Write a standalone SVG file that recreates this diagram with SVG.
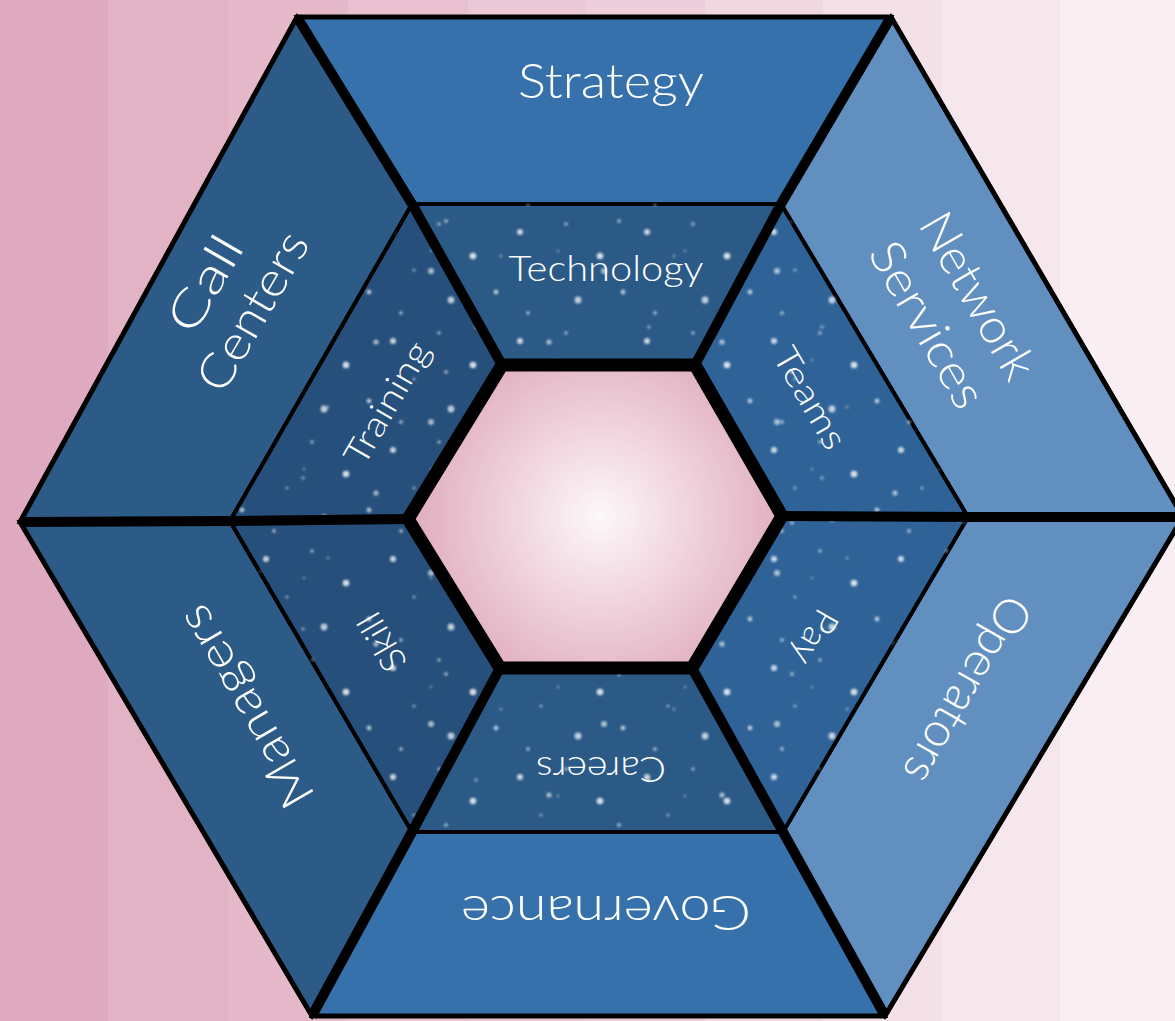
<svg xmlns="http://www.w3.org/2000/svg" width="1175" height="1021" viewBox="0 0 1175 1021">
  <defs>
    <style>
      .seg { stroke: #000; stroke-width: 4; stroke-linejoin: miter; }
      .dark { fill: #2c5b87; }
      .mid { fill: #3671ab; }
      .light { fill: #6190c0; }
      .r1 { fill: #2b5a87; }
      .r2 { fill: #264f7b; }
      .r3 { fill: #2f6398; }
      .stars { fill: url(#stars); filter: url(#soft); stroke: none; }
      .stars2 { fill: url(#stars2); filter: url(#soft); stroke: none; }
      .lbl { fill: #ffffff; font-family: Lato, "Open Sans", "Liberation Sans", sans-serif; font-weight: 300; text-anchor: middle; }
      .big { font-size: 48px; }
      .small { font-size: 35px; }
      .divider { fill: none; stroke: #000; stroke-width: 10; stroke-linejoin: miter; }
    </style>
    <filter id="soft" x="-5%" y="-5%" width="110%" height="110%">
      <feGaussianBlur stdDeviation="1.1"/>
    </filter>
    <pattern id="stars" width="127" height="109" patternUnits="userSpaceOnUse">
      <circle cx="12" cy="14" r="3" fill="#fff" fill-opacity="0.75"/>
      <circle cx="58" cy="6" r="1.8" fill="#fff" fill-opacity="0.55"/>
      <circle cx="92" cy="38" r="3.3" fill="#fff" fill-opacity="0.8"/>
      <circle cx="33" cy="52" r="1.6" fill="#fff" fill-opacity="0.5"/>
      <circle cx="115" cy="74" r="2.4" fill="#fff" fill-opacity="0.65"/>
      <circle cx="70" cy="82" r="3.4" fill="#fff" fill-opacity="0.7"/>
      <circle cx="20" cy="95" r="1.9" fill="#fff" fill-opacity="0.55"/>
      <circle cx="50" cy="33" r="1.3" fill="#fff" fill-opacity="0.4"/>
    </pattern>
    <pattern id="stars2" width="173" height="151" patternUnits="userSpaceOnUse">
      <circle cx="30" cy="40" r="2.6" fill="#fff" fill-opacity="0.6"/>
      <circle cx="130" cy="25" r="1.8" fill="#fff" fill-opacity="0.45"/>
      <circle cx="85" cy="120" r="3" fill="#fff" fill-opacity="0.6"/>
      <circle cx="155" cy="105" r="1.5" fill="#fff" fill-opacity="0.4"/>
      <circle cx="100" cy="70" r="2" fill="#fff" fill-opacity="0.5"/>
    </pattern>
    <radialGradient id="core" cx="600" cy="516" r="200" gradientUnits="userSpaceOnUse">
      <stop offset="0" stop-color="#fdf8fa"/>
      <stop offset="0.45" stop-color="#f0d3de"/>
      <stop offset="1" stop-color="#dea8bb"/>
    </radialGradient>
  </defs>

  <g id="background">
    <rect x="0" y="0" width="108" height="1021" fill="#dfa9bf"/>
    <rect x="108" y="0" width="120" height="1021" fill="#e2b2c5"/>
    <rect x="228" y="0" width="120" height="1021" fill="#e5b9ca"/>
    <rect x="348" y="0" width="120" height="1021" fill="#e8c0d0"/>
    <rect x="468" y="0" width="117" height="1021" fill="#ebc8d6"/>
    <rect x="585" y="0" width="120" height="1021" fill="#edcfdb"/>
    <rect x="705" y="0" width="118" height="1021" fill="#f0d8e1"/>
    <rect x="823" y="0" width="119" height="1021" fill="#f4e1e7"/>
    <rect x="942" y="0" width="118" height="1021" fill="#f6e7ec"/>
    <rect x="1060" y="0" width="115" height="1021" fill="#f9eef2"/>
  </g>

  <g id="node-strategy">
    <polygon class="seg mid" points="297,17 891,17 781,204 412,204"/>
    <text class="lbl big" x="611" y="98" textLength="186" lengthAdjust="spacingAndGlyphs">Strategy</text>
  </g>
  <g id="node-network-services">
    <polygon class="seg light" points="891,17 1183,517 968,517 781,204"/>
    <g transform="translate(953,310) rotate(60)">
      <text class="lbl big" x="0" y="-12" textLength="184" lengthAdjust="spacingAndGlyphs">Network</text>
      <text class="lbl big" x="0" y="46" textLength="184" lengthAdjust="spacingAndGlyphs">Services</text>
    </g>
  </g>
  <g id="node-operators">
    <polygon class="seg light" points="1183,517 885,1016 783,832 968,517"/>
    <text class="lbl big" transform="translate(968,690) rotate(120)" x="0" y="17" textLength="208" lengthAdjust="spacingAndGlyphs">Operators</text>
  </g>
  <g id="node-governance">
    <polygon class="seg mid" points="885,1016 312,1016 412,832 783,832"/>
    <text class="lbl big" transform="translate(606,913) rotate(180)" x="0" y="17" textLength="290" lengthAdjust="spacingAndGlyphs">Governance</text>
  </g>
  <g id="node-managers">
    <polygon class="seg dark" points="312,1016 20,522 230,521 412,832"/>
    <text class="lbl big" transform="translate(245,707) rotate(-120)" x="0" y="17" textLength="225" lengthAdjust="spacingAndGlyphs">Managers</text>
  </g>
  <g id="node-call-centers">
    <polygon class="seg dark" points="20,522 297,17 412,204 230,521"/>
    <g transform="translate(228,297) rotate(-60)">
      <text class="lbl big" x="0" y="-10" textLength="104" lengthAdjust="spacingAndGlyphs">Call</text>
      <text class="lbl big" x="0" y="45" textLength="176" lengthAdjust="spacingAndGlyphs">Centers</text>
    </g>
  </g>

  <g id="node-technology">
    <polygon class="seg r1" points="412,204 781,204 695,365 502,365"/>
    <polygon class="stars" points="412,204 781,204 695,365 502,365"/>
    <polygon class="stars2" points="412,204 781,204 695,365 502,365"/>
    <text class="lbl small" x="606" y="281" textLength="195" lengthAdjust="spacingAndGlyphs">Technology</text>
  </g>
  <g id="node-teams">
    <polygon class="seg r3" points="781,204 968,517 782,516 695,365"/>
    <polygon class="stars" points="781,204 968,517 782,516 695,365"/>
    <polygon class="stars2" points="781,204 968,517 782,516 695,365"/>
    <text class="lbl small" transform="translate(810,398) rotate(60)" x="0" y="12" textLength="112" lengthAdjust="spacingAndGlyphs">Teams</text>
  </g>
  <g id="node-pay">
    <polygon class="seg r3" points="968,517 783,832 692,668 782,516"/>
    <polygon class="stars" points="968,517 783,832 692,668 782,516"/>
    <polygon class="stars2" points="968,517 783,832 692,668 782,516"/>
    <text class="lbl small" transform="translate(815,637) rotate(120)" x="0" y="12" textLength="58" lengthAdjust="spacingAndGlyphs">Pay</text>
  </g>
  <g id="node-careers">
    <polygon class="seg r1" points="783,832 412,832 500,668 692,668"/>
    <polygon class="stars" points="783,832 412,832 500,668 692,668"/>
    <polygon class="stars2" points="783,832 412,832 500,668 692,668"/>
    <text class="lbl small" transform="translate(601,769) rotate(180)" x="0" y="12" textLength="130" lengthAdjust="spacingAndGlyphs">Careers</text>
  </g>
  <g id="node-skill">
    <polygon class="seg r2" points="412,832 230,521 408,519 500,668"/>
    <polygon class="stars" points="412,832 230,521 408,519 500,668"/>
    <polygon class="stars2" points="412,832 230,521 408,519 500,668"/>
    <text class="lbl small" transform="translate(382,642) rotate(-120)" x="0" y="12" textLength="62" lengthAdjust="spacingAndGlyphs">Skill</text>
  </g>
  <g id="node-training">
    <polygon class="seg r2" points="230,521 412,204 502,365 408,519"/>
    <polygon class="stars" points="230,521 412,204 502,365 408,519"/>
    <polygon class="stars2" points="230,521 412,204 502,365 408,519"/>
    <text class="lbl small" transform="translate(387,403) rotate(-60)" x="0" y="12" textLength="136" lengthAdjust="spacingAndGlyphs">Training</text>
  </g>

  <g id="dividers">
    <polyline class="divider" points="297,17 412,204 502,365"/>
    <polyline class="divider" points="891,17 781,204 695,365"/>
    <polyline class="divider" points="1183,517 968,517 782,516"/>
    <polyline class="divider" points="885,1016 783,832 692,668"/>
    <polyline class="divider" points="312,1016 412,832 500,668"/>
    <polyline class="divider" points="20,522 230,521 408,519"/>
    <polygon points="297,17 891,17 1183,517 885,1016 312,1016 20,522" fill="none" stroke="#000" stroke-width="5"/>
  </g>

  <g id="node-core">
    <polygon points="502,365 695,365 782,516 692,668 500,668 408,519" fill="url(#core)" stroke="#000" stroke-width="13" stroke-linejoin="miter"/>
  </g>
</svg>
